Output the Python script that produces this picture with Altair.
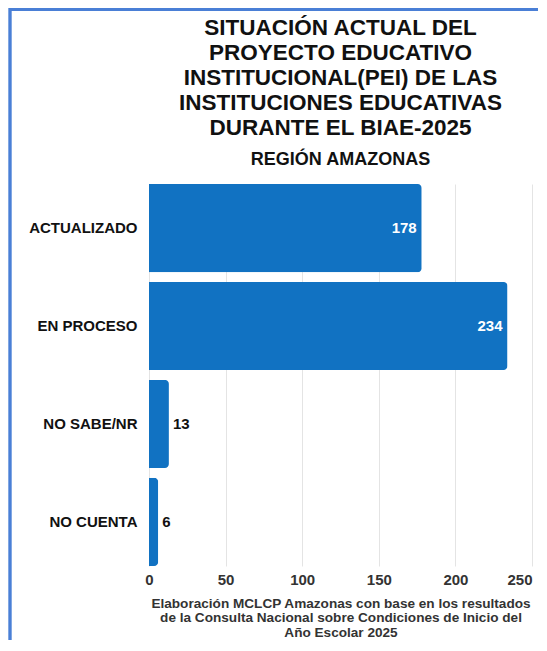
import altair as alt
import pandas as pd

categories = ["ACTUALIZADO", "EN PROCESO", "NO SABE/NR", "NO CUENTA"]
values = [178, 234, 13, 6]
tick_values = [0, 50, 100, 150, 200, 250]

df = pd.DataFrame({"cat": categories, "val": values})

FONT = "Liberation Sans"
BLUE = "#1172c2"

x_enc = alt.X(
    "val:Q",
    scale=alt.Scale(domain=[0, 250], nice=False),
    axis=alt.Axis(
        values=tick_values,
        title=[
            "Elaboración MCLCP Amazonas con base en los resultados",
            "de la Consulta Nacional sobre Condiciones de Inicio del",
            "Año Escolar 2025",
        ],
        titleFont=FONT, titleFontSize=13.6, titleFontWeight="bold",
        titleColor="#333333", titleLineHeight=14.7, titlePadding=9,
        labelFont=FONT, labelFontSize=15, labelFontWeight="bold",
        labelColor="#333333", labelPadding=6, labelFlush=False,
        labelAlign={"condition": {"test": "datum.value == 250", "value": "right"},
                    "value": "center"},
        ticks=False, domain=False,
        grid=True, gridColor="#e4e4e4", gridWidth=1,
    ),
)
y_enc = alt.Y(
    "cat:N", sort=categories,
    scale=alt.Scale(paddingInner=0.1, paddingOuter=0),
    axis=alt.Axis(
        title=None, ticks=False, domain=False,
        labelFont=FONT, labelFontSize=15, labelFontWeight="bold",
        labelColor="#111111", labelPadding=12,
    ),
)

base = alt.Chart(df)

bars = base.mark_bar(color=BLUE, cornerRadiusEnd=4).encode(x=x_enc, y=y_enc)

inside = base.transform_filter("datum.val > 100").mark_text(
    align="right", baseline="middle", dx=-5, font=FONT, fontSize=15,
    fontWeight="bold", color="white"
).encode(x="val:Q", y=alt.Y("cat:N", sort=categories), text="val:Q")

outside = base.transform_filter("datum.val <= 100").mark_text(
    align="left", baseline="middle", dx=4, font=FONT, fontSize=15,
    fontWeight="bold", color="#111111"
).encode(x="val:Q", y=alt.Y("cat:N", sort=categories), text="val:Q")

frame_left = alt.Chart(df).mark_rule(color="#4a7fd6", strokeWidth=2.5).encode(
    x=alt.value(-139), y=alt.value(-176), y2=alt.value(470)
)
frame_top = alt.Chart(df).mark_rule(color="#4a7fd6", strokeWidth=2.5).encode(
    x=alt.value(-140), x2=alt.value(400), y=alt.value(-174.5)
)

chart = alt.layer(bars, inside, outside, frame_left, frame_top).properties(
    width=383,
    height=382,
    title=alt.TitleParams(
        text=[
            "SITUACIÓN ACTUAL DEL",
            "PROYECTO EDUCATIVO",
            "INSTITUCIONAL(PEI) DE LAS",
            "INSTITUCIONES EDUCATIVAS",
            "DURANTE EL BIAE-2025",
        ],
        subtitle="REGIÓN AMAZONAS",
        anchor="middle",
        frame="group",
        font=FONT, fontSize=22.5, fontWeight="bold", color="#111111",
        lineHeight=25,
        subtitleFont=FONT, subtitleFontSize=18, subtitleFontWeight="bold",
        subtitleColor="#111111", subtitlePadding=11,
        offset=-162,
    ),
    autosize=alt.AutoSizeParams(type="none"),
    padding={"left": 141, "top": 176, "right": 6, "bottom": 74},
).configure_view(stroke=None)

chart.save("out.html", embed_options={"renderer": "svg", "actions": False})
